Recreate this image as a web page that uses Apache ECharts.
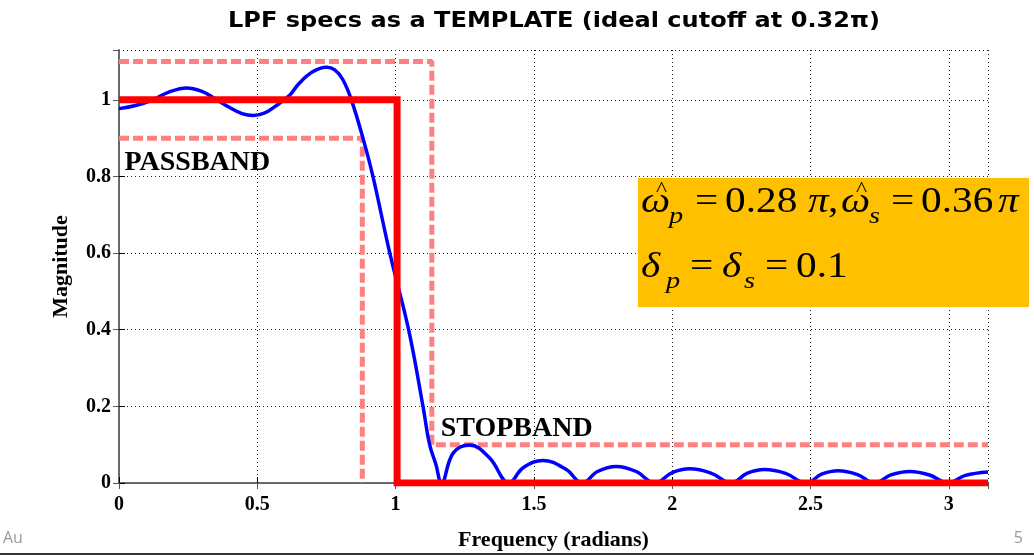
<!DOCTYPE html>
<html><head><meta charset="utf-8">
<script src="https://cdn.jsdelivr.net/npm/echarts@6/dist/echarts.min.js"></script>
<style>html,body{margin:0;padding:0;background:#fff;}#c{width:1034px;height:557px;}</style>
</head><body><div id="c"></div>
<script>
// ---- data ----
const PI = Math.PI;
const freqX = [0, 0.06, 0.123, 0.18, 0.244, 0.30, 0.34, 0.40, 0.445, 0.485, 0.525, 0.557, 0.617, 0.65, 0.70, 0.75, 0.78, 0.809, 0.840, 0.882, 0.918, 0.979, 1.047, 1.099, 1.123, 1.145, 1.166, 1.208, 1.268, 1.34, 1.41, 1.46, 1.533, 1.617, 1.675, 1.73, 1.798, 1.87, 1.937, 2.0, 2.063, 2.14, 2.214, 2.27, 2.334, 2.41, 2.485, 2.54, 2.60, 2.67, 2.732, 2.79, 2.859, 2.93, 2.997, 3.06, 3.1416];
const magY  = [0.977, 0.985, 1.0, 1.02, 1.031, 1.022, 1.006, 0.980, 0.964, 0.959, 0.965, 0.979, 1.012, 1.042, 1.073, 1.085, 1.078, 1.053, 1.0, 0.9, 0.8, 0.6, 0.4, 0.2, 0.1, 0.05, 0.0, 0.078, 0.099, 0.065, 0.0, 0.039, 0.059, 0.035, 0.0, 0.03, 0.043, 0.03, 0.0, 0.027, 0.037, 0.026, 0.0, 0.025, 0.035, 0.025, 0.0, 0.023, 0.032, 0.022, 0.0, 0.021, 0.030, 0.021, 0.0, 0.02, 0.029];
const idealX = [0, 0.32 * PI, 0.32 * PI, PI];
const idealY = [1, 1, 0, 0];
const upperX = [0, 0.36 * PI, 0.36 * PI, PI];
const upperY = [1.1, 1.1, 0.1, 0.1];
const lowerX = [0, 0.28 * PI, 0.28 * PI];
const lowerY = [0.9, 0.9, 0];
const xTickLabels = ['0', '0.5', '1', '1.5', '2', '2.5', '3'];
const yTickLabels = ['0', '0.2', '0.4', '0.6', '0.8', '1'];
const bandLabels = [{ name: 'PASSBAND', x: 0.02, y: 0.836 }, { name: 'STOPBAND', x: 1.163, y: 0.142 }];
const titleText = 'LPF specs as a TEMPLATE (ideal cutoff at 0.32\u03c0)';

const zip = (a, b) => a.map((v, i) => [v, b[i]]);
const serif = '"Liberation Serif", "Times New Roman", serif';

// horizontal scale factor so the title spans the same width as in the reference
function fitScale(text, font, target) {
  const ctx = document.createElement('canvas').getContext('2d');
  ctx.font = font;
  return target / ctx.measureText(text).width;
}
const titleScale = fitScale(titleText, 'bold 22px "DejaVu Sans"', 652);

// formula pieces: [text, left, middleY, kind]
const SX = 1.18;
const formula = [
  ['\u03c9', 641, 203, 'v'], ['^', 656, 191, 'hat'], ['p', 669, 217, 's'], ['=', 695, 203, 'n'],
  ['0.28', 725, 203, 'n'], ['\u03c0', 808, 203, 'v'], [',', 828, 203, 'n'],
  ['\u03c9', 841, 203, 'v'], ['^', 856, 191, 'hat'], ['s', 869, 217, 's'], ['=', 891, 203, 'n'],
  ['0.36', 921, 203, 'n'], ['\u03c0', 998, 203, 'v'],
  ['\u03b4', 641, 268, 'v'], ['p', 666, 282, 's'], ['=', 690, 268, 'n'],
  ['\u03b4', 722, 268, 'v'], ['s', 744, 282, 's'], ['=', 765, 268, 'n'], ['0.1', 796, 268, 'n']
];
const kindStyle = {
  v: { fontStyle: 'italic', fontSize: 35 },
  n: { fontStyle: 'normal', fontSize: 35 },
  s: { fontStyle: 'italic', fontSize: 24 },
  hat: { fontStyle: 'normal', fontSize: 20 }
};

const chart = echarts.init(document.getElementById('c'), null, { renderer: 'canvas' });
const dotted = { color: '#222', width: 1, type: [1, 3] };
const option = {
  animation: false,
  backgroundColor: '#ffffff',
  grid: { left: 119, right: 46, top: 50, bottom: 74 },
  xAxis: [{
    type: 'value', min: 0, max: PI, interval: 0.5,
    name: 'Frequency (radians)', nameLocation: 'middle', nameGap: 46,
    nameTextStyle: { fontFamily: serif, fontWeight: 'bold', fontSize: 22, color: '#000' },
    axisLine: { lineStyle: { color: '#000', width: 1.5 } },
    axisTick: { inside: true, length: 6, lineStyle: { color: '#000' } },
    axisLabel: {
      showMaxLabel: false, margin: 12,
      fontFamily: serif, fontWeight: 'bold', fontSize: 20, color: '#000',
      formatter: v => { const i = Math.round(v / 0.5); return Math.abs(v - i * 0.5) < 1e-6 && xTickLabels[i] !== undefined ? xTickLabels[i] : ''; }
    },
    splitLine: { show: true, lineStyle: dotted }
  }, {
    type: 'value', min: 0, max: PI, interval: 0.5, position: 'top',
    axisLine: { lineStyle: { color: '#7a7a7a', width: 1.5 } },
    axisTick: { inside: true, length: 6, lineStyle: { color: '#555' } },
    axisLabel: { show: false }, splitLine: { show: false }
  }],
  yAxis: [{
    type: 'value', min: 0, max: 1.13, interval: 0.2,
    name: 'Magnitude', nameLocation: 'middle', nameGap: 47, nameRotate: 90,
    nameTextStyle: { fontFamily: serif, fontWeight: 'bold', fontSize: 22, color: '#000' },
    axisLine: { lineStyle: { color: '#000', width: 1.5 } },
    axisTick: { inside: true, length: 6, lineStyle: { color: '#000' } },
    axisLabel: {
      showMaxLabel: false, margin: 8,
      fontFamily: serif, fontWeight: 'bold', fontSize: 20, color: '#000',
      formatter: v => { const i = Math.round(v / 0.2); return Math.abs(v - i * 0.2) < 1e-6 && yTickLabels[i] !== undefined ? yTickLabels[i] : ''; }
    },
    splitLine: { show: true, lineStyle: dotted }
  }, {
    type: 'value', min: 0, max: 1.13, interval: 0.2, position: 'right',
    axisLine: { show: true, lineStyle: { color: '#7a7a7a', width: 1.5 } },
    axisTick: { show: true, inside: true, length: 6, lineStyle: { color: '#555' } },
    axisLabel: { show: false }, splitLine: { show: false }
  }],
  series: [
    { type: 'line', data: zip(upperX, upperY), symbol: 'none', z: 2,
      lineStyle: { color: '#ff8080', width: 5, type: [10, 4] } },
    { type: 'line', data: zip(lowerX, lowerY), symbol: 'none', z: 2,
      lineStyle: { color: '#ff8080', width: 5, type: [10, 4] } },
    { type: 'line', data: zip(freqX, magY), symbol: 'none', smooth: 0.4, z: 3,
      lineStyle: { color: '#0000ff', width: 3.5 } },
    { type: 'line', data: zip(idealX, idealY), symbol: 'none', z: 4,
      lineStyle: { color: '#ff0000', width: 7, join: 'miter', cap: 'butt' } },
    { type: 'scatter', symbolSize: 0, z: 5, itemStyle: { opacity: 1 },
      data: bandLabels.map(d => ({ value: [d.x, d.y], name: d.name })),
      label: { show: true, position: 'right', distance: 0, formatter: '{b}', opacity: 1,
        fontFamily: serif, fontWeight: 'bold', fontSize: 28, color: '#000' } }
  ],
  graphic: [
    { type: 'text', x: 554, y: 21, scaleX: titleScale, z: 20,
      style: { text: titleText, font: 'bold 22px "DejaVu Sans"', fill: '#000', align: 'center', verticalAlign: 'middle' } },
    { type: 'rect', left: 638, top: 178, shape: { width: 391, height: 129 }, style: { fill: '#ffc000' }, z: 10 }
  ].concat(formula.map(([t, x, y, k]) => ({
    type: 'text', x: x, y: y, scaleX: SX, z: 11,
    style: { text: t, fontFamily: serif, fontStyle: kindStyle[k].fontStyle, fontSize: kindStyle[k].fontSize,
      fill: '#000', align: 'left', verticalAlign: 'middle' }
  }))).concat([
    { type: 'text', x: 3, y: 538, style: { text: 'Au', fontFamily: '"Open Sans", sans-serif', fontSize: 16, fill: '#999', verticalAlign: 'middle' } },
    { type: 'text', x: 1023, y: 538, style: { text: '5', fontFamily: '"Open Sans", sans-serif', fontSize: 16, fill: '#999', align: 'right', verticalAlign: 'middle' } },
    { type: 'rect', left: 0, top: 553, shape: { width: 1034, height: 2 }, style: { fill: '#333' } }
  ])
};
chart.setOption(option);
</script></body></html>
